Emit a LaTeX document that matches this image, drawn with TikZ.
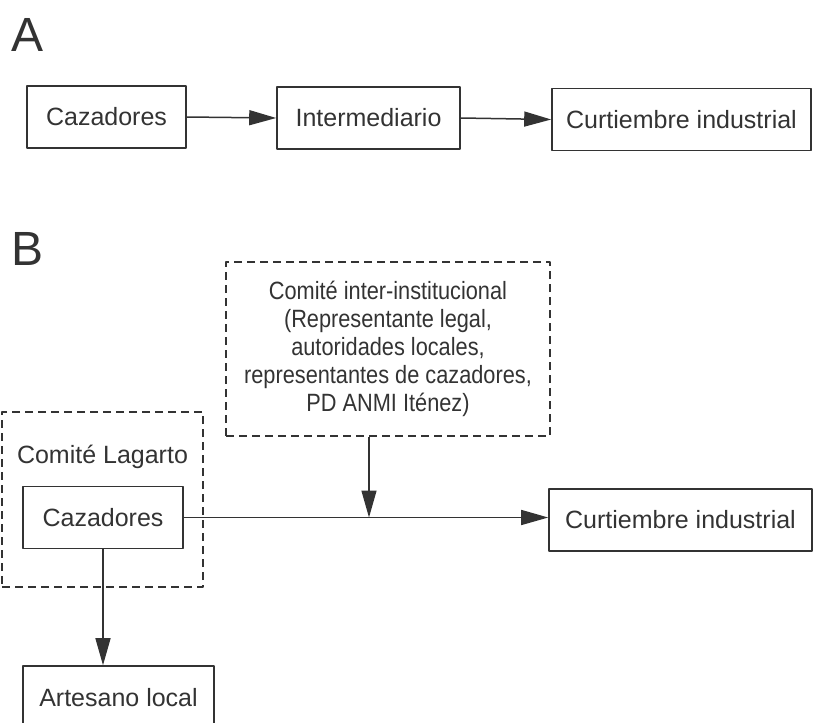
\documentclass[tikz,border=0pt]{standalone}
\usepackage{fontspec}
\setmainfont{Liberation Sans}
\newfontfamily\narrowsans[FakeStretch=0.87]{Liberation Sans}
\usetikzlibrary{arrows.meta}
\definecolor{ink}{gray}{0.2}

\begin{document}
\begin{tikzpicture}[x=1pt,y=-1pt,font=\fontsize{25}{28}\selectfont,text=ink,line join=round,
		>={Triangle[length=27pt,width=15pt]},
		box/.style={draw=ink,line width=1.6pt,inner sep=0pt,minimum height=62pt},
		dashbox/.style={draw=ink,line width=1.5pt,dash pattern=on 8pt off 5pt,inner sep=0pt},
		link/.style={draw=ink,line width=1.5pt,->}]
	\clip (0,0) rectangle (815,723);
	\foreach \p/\y in {A/35,B/249} \node[font=\fontsize{48}{48}\selectfont] (lab\p) at (28,\y) {\p};
	% A
	\node[box,minimum width=159pt] (cazA) at (106.5,117) {Cazadores};
	\node[box,minimum width=183pt] (interm) at (368.5,118) {Intermediario};
	\node[box,minimum width=259pt] (curtA) at (681.5,119.5) {Curtiembre industrial};
	\draw[link] (cazA.east) -- (interm.west);
	\draw[link] (interm.east) -- (curtA.west);
	% B
	\node[dashbox,minimum width=324pt,minimum height=174pt,align=center,
		font=\narrowsans\fontsize{25}{28}\selectfont] (comite) at (388,349)
		{Comité inter-institucional\\(Representante legal,\\autoridades locales,\\representantes de cazadores,\\PD ANMI Iténez)};
	\node[dashbox,minimum width=201pt,minimum height=175pt] (lagarto) at (102.5,499.5) {};
	\node (lagtitle) at (102.5,457) {Comité Lagarto};
	\node[box,minimum width=160pt] (cazB) at (103,517.5) {Cazadores};
	\node[box,minimum width=263pt] (curtB) at (680.5,520) {Curtiembre industrial};
	\node[box,minimum width=191pt,minimum height=64pt] (artesano) at (118.5,698) {Artesano local};
	\coordinate (merge) at (369,517.5);
	\draw[link] (cazB.east) -- (cazB.east -| curtB.west);
	\draw[link] (merge |- comite.south) -- (merge);
	\draw[link] (cazB.south) -- (cazB.south |- artesano.north);
\end{tikzpicture}
\end{document}
